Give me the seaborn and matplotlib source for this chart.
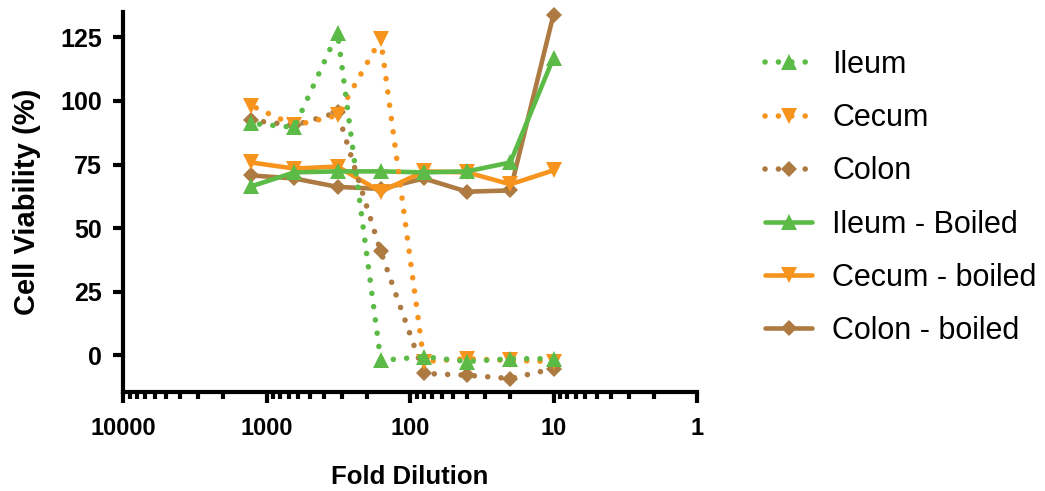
import numpy as np
import pandas as pd
import matplotlib
matplotlib.use('Agg')
import matplotlib.pyplot as plt
import matplotlib.ticker as mticker
import seaborn as sns

# Fold dilutions tested
dilutions = [1280, 640, 320, 160, 80, 40, 20, 10]

# Cell viability (%)
ileum = [91.2, 89.6, 126.8, -2.1, -0.6, -2.5, -1.4, -1.4]
cecum = [98.2, 90.4, 94.3, 124.4, -2.5, -1.4, -2.1, -2.5]
colon = [92.4, 90.4, 95.5, 40.8, -7.2, -7.9, -9.2, -5.3]
ileum_boiled = [66.4, 71.9, 72.3, 72.3, 71.9, 72.3, 75.8, 117.0]
cecum_boiled = [75.8, 73.4, 74.2, 64.3, 72.3, 71.9, 67.2, 72.7]
colon_boiled = [70.7, 69.5, 66.2, 65.4, 69.5, 64.3, 64.8, 134.0]

labels = ['Ileum', 'Cecum', 'Colon', 'Ileum - Boiled', 'Cecum - boiled', 'Colon - boiled']
series = [ileum, cecum, colon, ileum_boiled, cecum_boiled, colon_boiled]

green = '#5BBB46'
orange = '#F7941D'
brown = '#AD7A42'
colors = [green, orange, brown, green, orange, brown]
markers = ['^', 'v', 'D', '^', 'v', 'D']
msizes = [11, 11, 8.5, 11, 11, 8.5]
dotted = (0, (0.01, 2.4))
styles = [dotted, dotted, dotted, '-', '-', '-']

sns.set_style('ticks')
plt.rcParams['font.family'] = ['Liberation Sans', 'DejaVu Sans']
plt.rcParams['text.color'] = 'black'
plt.rcParams['axes.labelcolor'] = 'black'
plt.rcParams['xtick.color'] = 'black'
plt.rcParams['ytick.color'] = 'black'
plt.rcParams['axes.edgecolor'] = 'black'

fig = plt.figure(figsize=(10.45, 4.91), dpi=100)
ax = fig.add_axes([0.1177, 0.2016, 0.5493, 0.774])

for i, (lab, vals) in enumerate(zip(labels, series)):
    df = pd.DataFrame({'dilution': dilutions, 'viability': vals})
    sns.lineplot(data=df, x='dilution', y='viability', ax=ax, color=colors[i],
                 marker=markers[i], markersize=msizes[i], markeredgewidth=0,
                 linestyle=styles[i], linewidth=3.3 if styles[i] == '-' else 4.0,
                 dash_capstyle='round', label=lab, zorder=10 - i, clip_on=False)

ax.set_xscale('log')
ax.set_xlim(10000, 1)
ax.set_ylim(-14.5, 135)
ax.set_yticks([0, 25, 50, 75, 100, 125])
ax.xaxis.set_major_locator(mticker.FixedLocator([10000, 1000, 100, 10, 1]))
ax.xaxis.set_major_formatter(mticker.FixedFormatter(['10000', '1000', '100', '10', '1']))
ax.xaxis.set_minor_locator(mticker.LogLocator(base=10, subs=np.arange(2, 10)))
ax.xaxis.set_minor_formatter(mticker.NullFormatter())

sns.despine(ax=ax)
for side in ['left', 'bottom']:
    ax.spines[side].set_linewidth(3)
ax.tick_params(axis='both', which='major', width=3, length=7, direction='out')
ax.tick_params(axis='y', which='major', pad=8)
ax.tick_params(axis='x', which='minor', width=3, length=5, direction='out')
ax.tick_params(axis='x', which='major', length=8, pad=10)

for t in ax.get_yticklabels():
    t.set_fontsize(18)
    t.set_fontweight('bold')
for t in ax.get_xticklabels():
    t.set_fontsize(17)
    t.set_fontweight('bold')

ax.set_ylabel('Cell Viability (%)', fontsize=21, fontweight='bold', labelpad=14)
ax.set_xlabel('Fold Dilution', fontsize=18.5, fontweight='bold', labelpad=18)

handles, labs = ax.get_legend_handles_labels()
ax.legend(handles, labs, loc='upper left', bbox_to_anchor=(765 / 1045, 1 - 50 / 491),
          bbox_transform=fig.transFigure, frameon=False, fontsize=22,
          handlelength=1.55, handletextpad=0.65, labelspacing=0.76, borderpad=0,
          borderaxespad=0)

fig.savefig('out.png', dpi=100)
